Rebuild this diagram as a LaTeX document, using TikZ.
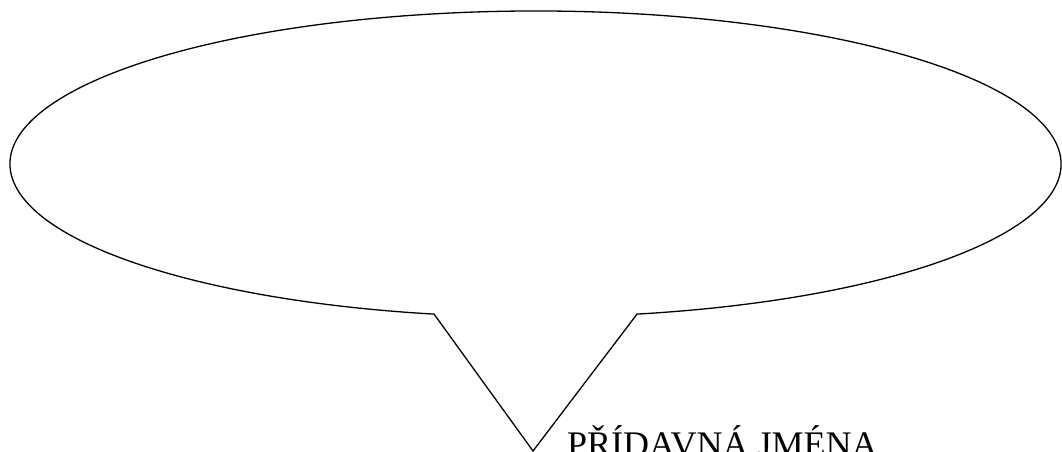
\documentclass[tikz,border=0pt]{standalone}
\usepackage{fontspec}
\setmainfont{Liberation Serif}
\usepackage{tikz}
\usetikzlibrary{positioning,calc}

\tikzset{
  bubble/.style={draw=black, line width=1.3pt, line join=miter},
  nadpis/.style={inner sep=0pt, font=\fontsize{36}{40}\selectfont}
}

\begin{document}
\begin{tikzpicture}[x=1pt,y=1pt]
  \useasboundingbox (0,0) rectangle (1062,452);
  % bublina
  \coordinate (stred) at (535.5,288);
  \coordinate (pravy) at ($(stred)+(281.14:525.5 and 153)$);
  \coordinate (spicka) at (533,1);
  \draw[bubble] (pravy) arc[start angle=281.14, end angle=618.87, x radius=525.5, y radius=153]
    -- (spicka) -- cycle;
  % popisek
  \node[nadpis, anchor=base west] (popis) at (567,-5) {PŘÍDAVNÁ JMÉNA};
\end{tikzpicture}
\end{document}
